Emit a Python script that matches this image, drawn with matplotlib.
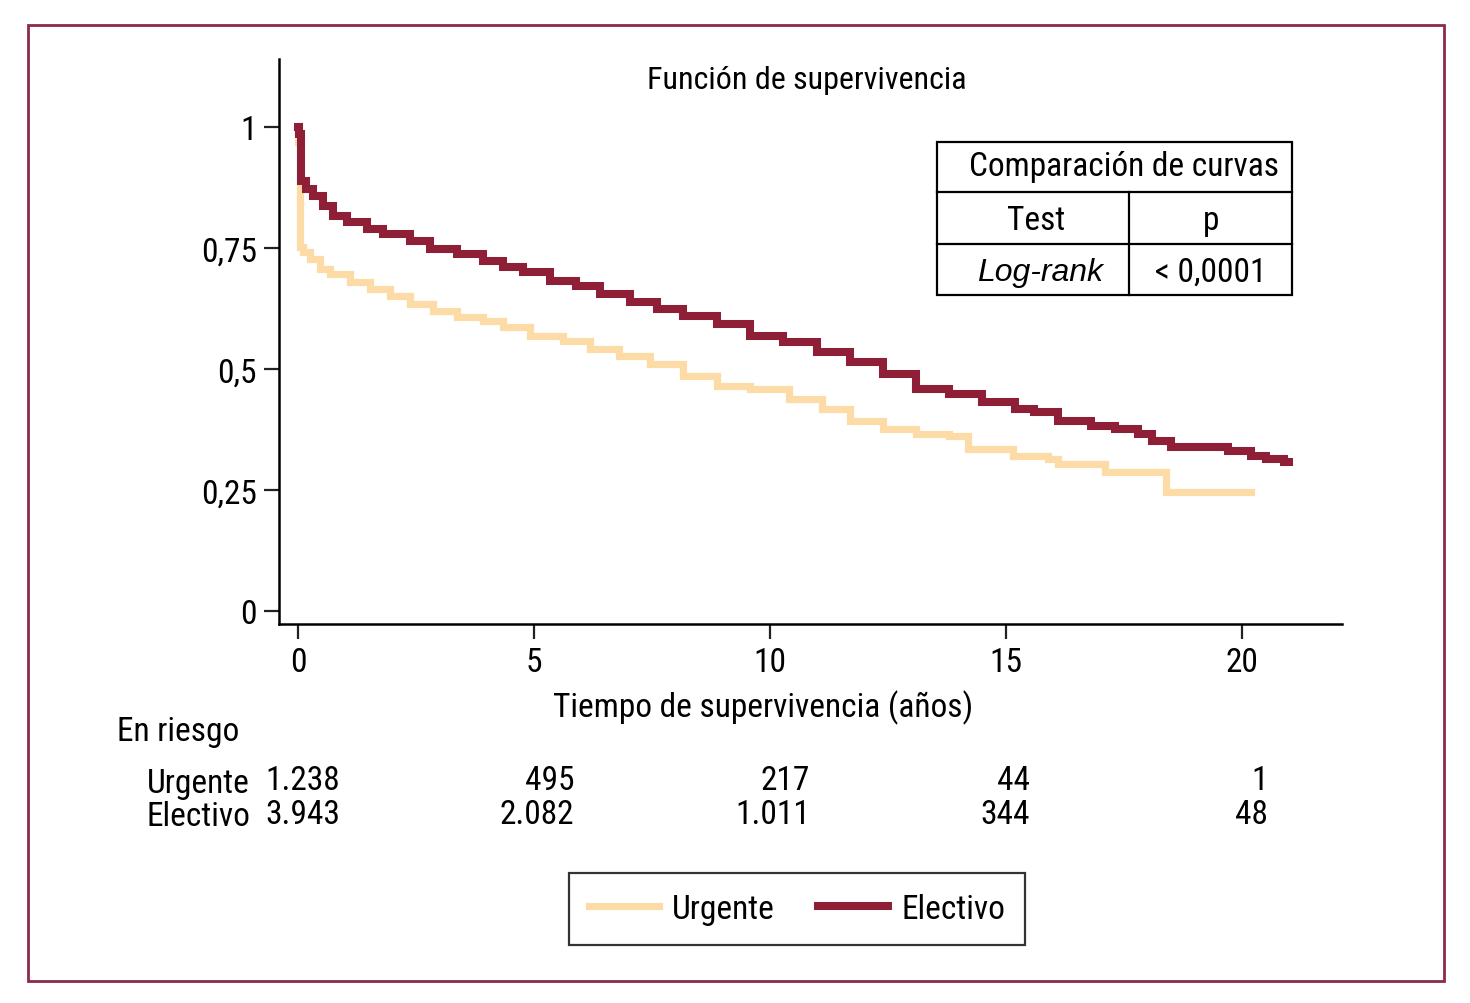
import matplotlib
matplotlib.use("Agg")
import matplotlib.pyplot as plt
from matplotlib.lines import Line2D
from matplotlib.patches import Rectangle

plt.rcParams['font.family'] = ['Roboto Condensed', 'DejaVu Sans']

# Curvas de supervivencia (Kaplan-Meier)
t_urg = [0, 0.04, 0.1, 0.25, 0.47, 0.68, 1.1, 1.53, 1.95, 2.37, 2.86, 3.37, 3.92, 4.34,
         4.92, 5.61, 6.19, 6.8, 7.46, 8.16, 8.87, 9.58, 10.4, 11.1, 11.7, 12.4, 13.1,
         13.8, 14.2, 15.15, 15.9, 16.1, 17.1, 18.4, 20.2]
s_urg = [0.97, 0.752, 0.742, 0.727, 0.707, 0.696, 0.680, 0.665, 0.651, 0.634, 0.620,
         0.607, 0.599, 0.587, 0.568, 0.558, 0.541, 0.527, 0.510, 0.486, 0.465, 0.459,
         0.438, 0.417, 0.393, 0.376, 0.366, 0.362, 0.335, 0.320, 0.314, 0.304, 0.287,
         0.246, 0.246]

t_ele = [0, 0.03, 0.06, 0.18, 0.32, 0.53, 0.74, 1.04, 1.46, 1.8, 2.37, 2.8, 3.37, 3.92,
         4.34, 4.77, 5.34, 5.9, 6.4, 7.03, 7.6, 8.16, 8.87, 9.58, 10.28, 10.99, 11.7,
         12.4, 13.1, 13.8, 14.5, 15.2, 15.6, 16.1, 16.8, 17.3, 17.8, 18.1, 18.5, 19.7,
         20.2, 20.5, 20.9, 21.0]
s_ele = [1.0, 0.985, 0.888, 0.872, 0.857, 0.837, 0.816, 0.803, 0.789, 0.779, 0.764,
         0.748, 0.738, 0.723, 0.711, 0.700, 0.682, 0.672, 0.655, 0.638, 0.624, 0.610,
         0.593, 0.568, 0.556, 0.535, 0.514, 0.490, 0.459, 0.448, 0.432, 0.417, 0.411,
         0.393, 0.382, 0.376, 0.366, 0.351, 0.339, 0.331, 0.320, 0.314, 0.308, 0.308]

x_ticks = [0, 5, 10, 15, 20]
y_ticks = [0, 0.25, 0.5, 0.75, 1]
y_labels = ['0', '0,25', '0,5', '0,75', '1']

riesgo_urg = ['1.238', '495', '217', '44', '1']
riesgo_ele = ['3.943', '2.082', '1.011', '344', '48']

c_urg = '#FDDBA6'
c_ele = '#8E1F36'
FS = 24

fig = plt.figure(figsize=(14.7, 10.04), dpi=100)
W, H = 1470, 1004

def fx(px):
    return px / W

def fy(py):
    return 1 - py / H

# marco exterior
fig.add_artist(Rectangle((fx(28), fy(982)), fx(1444) - fx(28), fy(26) - fy(982),
                         transform=fig.transFigure, fill=False, edgecolor='#8B2A4C', lw=2))

ax_l, ax_r, ax_b, ax_t = 279, 1342, 625, 60
ax = fig.add_axes([fx(ax_l), fy(ax_b), fx(ax_r) - fx(ax_l), fy(ax_t) - fy(ax_b)])
ax.step(t_urg, s_urg, where='post', color=c_urg, lw=5.2, solid_joinstyle='miter')
ax.step(t_ele, s_ele, where='post', color=c_ele, lw=5.8, solid_joinstyle='miter')

ax.set_xlim((ax_l - 298) / 47.2, (ax_r - 298) / 47.2)
ax.set_ylim((612 - ax_b) / 484, (612 - ax_t) / 484)
ax.set_xticks(x_ticks)
ax.set_yticks(y_ticks)
ax.set_yticklabels(y_labels)
ax.spines['top'].set_visible(False)
ax.spines['right'].set_visible(False)
for sp in ['left', 'bottom']:
    ax.spines[sp].set_linewidth(1.8)
ax.tick_params(length=11, width=1.6, labelsize=FS, pad=5, color='#222222')

ax.set_xlabel('Tiempo de supervivencia (años)', fontsize=FS)
ax.xaxis.set_label_coords((763 - ax_l) / (ax_r - ax_l), -(690 - ax_b) / (ax_b - ax_t))
ax.text((807 - ax_l) / (ax_r - ax_l), (ax_b - 81) / (ax_b - ax_t), 'Función de supervivencia',
        transform=ax.transAxes, ha='center', va='center', fontsize=FS - 1)

# tabla de comparación
x0, x1, xm = 937, 1292, 1129
y0, y1, y2, y3 = 143, 193, 245, 296
fig.add_artist(Rectangle((fx(x0), fy(y3)), fx(x1) - fx(x0), fy(y0) - fy(y3),
                         transform=fig.transFigure, fill=False, edgecolor='black', lw=1.6))
for yy in [y1, y2]:
    fig.add_artist(Line2D([fx(x0), fx(x1)], [fy(yy), fy(yy)], transform=fig.transFigure,
                          color='black', lw=1.6))
fig.add_artist(Line2D([fx(xm), fx(xm)], [fy(y1), fy(y3)], transform=fig.transFigure,
                      color='black', lw=1.6))
fig.text(fx(1124), fy(167), 'Comparación de curvas', ha='center', va='center', fontsize=FS)
fig.text(fx(1036), fy(221), 'Test', ha='center', va='center', fontsize=FS)
fig.text(fx(1211), fy(221), 'p', ha='center', va='center', fontsize=FS)
fig.text(fx(1040), fy(273), 'Log-rank', ha='center', va='center', fontsize=FS - 1,
         style='italic', family=['Liberation Sans', 'DejaVu Sans'])
fig.text(fx(1211), fy(273), '< 0,0001', ha='center', va='center', fontsize=FS)

# tabla de pacientes en riesgo
fig.text(fx(117), fy(732), 'En riesgo', ha='left', va='center', fontsize=FS)
fig.text(fx(250), fy(784), 'Urgente', ha='right', va='center', fontsize=FS)
fig.text(fx(250), fy(817), 'Electivo', ha='right', va='center', fontsize=FS)
right_px = [340, 574, 810, 1030, 1268]
for i in range(len(x_ticks)):
    fig.text(fx(right_px[i]), fy(781), riesgo_urg[i], ha='right', va='center', fontsize=FS)
    fig.text(fx(right_px[i]), fy(815), riesgo_ele[i], ha='right', va='center', fontsize=FS)

# leyenda
handles = [Line2D([], [], color=c_urg, lw=5.2), Line2D([], [], color=c_ele, lw=5.8)]
leg = fig.legend(handles, ['Urgente', 'Electivo'], loc='center', ncol=2,
                 bbox_to_anchor=(fx(797), fy(910)), fontsize=FS, frameon=True,
                 fancybox=False, edgecolor='black', handlelength=2.1, columnspacing=1.3,
                 handletextpad=0.4, borderpad=0.6)
leg.get_frame().set_linewidth(1.6)

fig.savefig('out.png', dpi=100)
